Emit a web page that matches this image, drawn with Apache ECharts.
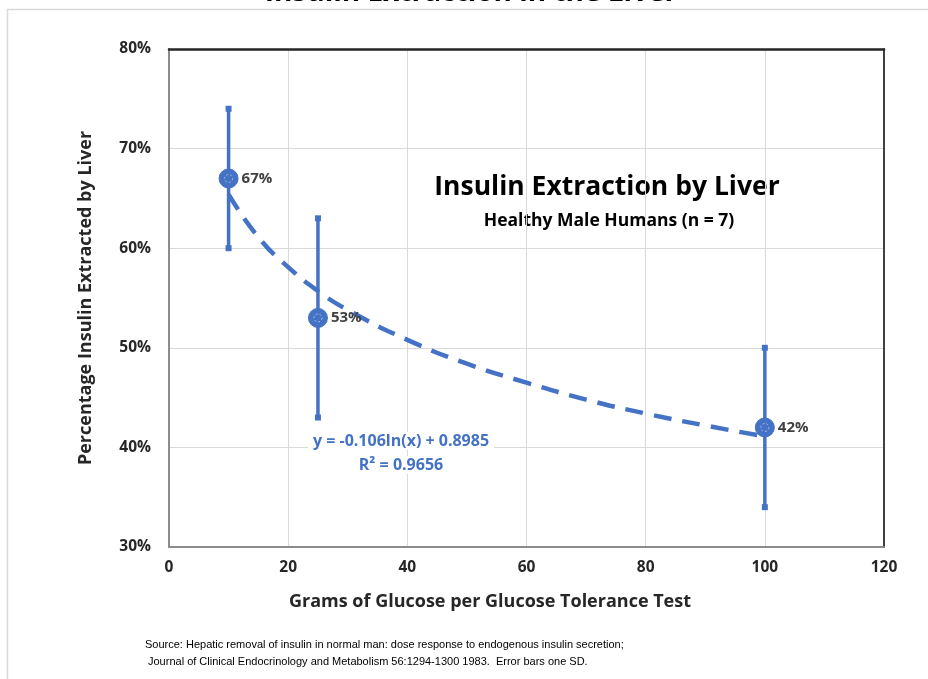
<!DOCTYPE html>
<html>
<head>
<meta charset="utf-8">
<script src="https://cdn.jsdelivr.net/npm/echarts@6/dist/echarts.min.js"></script>
<style>html,body{margin:0;padding:0;background:#fff;}#main{width:928px;height:679px;}</style>
</head>
<body>
<div id="main"></div>
<script>
// Data
var glucoseGrams = [10, 25, 100];
var extractionMean = [0.67, 0.53, 0.42];
var extractionLow = [0.60, 0.43, 0.34];
var extractionHigh = [0.74, 0.63, 0.50];
var pointLabels = ['67%', '53%', '42%'];
// Trend line
var trendX = [10, 15, 20, 25, 30, 40, 50, 60, 70, 80, 90, 100];
var trendY = [0.654, 0.611, 0.581, 0.557, 0.538, 0.508, 0.484, 0.465, 0.448, 0.434, 0.422, 0.411];
var xTicks = [0, 20, 40, 60, 80, 100, 120];
var yTicks = [0.3, 0.4, 0.5, 0.6, 0.7, 0.8];

var BLUE = '#4472C4';
var FONT = '"Open Sans", "Liberation Sans", sans-serif';

var chart = echarts.init(document.getElementById('main'), null, {renderer: 'canvas'});

var scatterData = glucoseGrams.map(function (x, i) { return [x, extractionMean[i], pointLabels[i]]; });
var errData = glucoseGrams.map(function (x, i) { return [x, extractionLow[i], extractionHigh[i]]; });
var trendData = trendX.map(function (x, i) { return [x, trendY[i]]; });

var option = {
  animation: false,
  backgroundColor: '#fff',
  grid: {left: 169, right: 44, top: 49, bottom: 132, containLabel: false},
  xAxis: [{
    type: 'value', min: xTicks[0], max: xTicks[xTicks.length - 1], interval: 20,
    axisLine: {lineStyle: {color: '#8c8c8c', width: 2}},
    axisTick: {show: false},
    axisLabel: {fontFamily: FONT, fontWeight: 'bold', fontSize: 15.5, color: '#262626', margin: 13},
    splitLine: {lineStyle: {color: '#d9d9d9', width: 1}}
  }, {
    type: 'value', min: 0, max: 120, position: 'top',
    axisLine: {show: true, onZero: false, lineStyle: {color: '#262626', width: 2.5}},
    axisTick: {show: false}, axisLabel: {show: false}, splitLine: {show: false}
  }],
  yAxis: [{
    type: 'value', min: yTicks[0], max: yTicks[yTicks.length - 1], interval: 0.1,
    axisLine: {show: true, lineStyle: {color: '#8c8c8c', width: 2}},
    axisTick: {show: false},
    axisLabel: {fontFamily: FONT, fontWeight: 'bold', fontSize: 15.5, color: '#262626', margin: 18,
      formatter: function (v) { return Math.round(v * 100) + '%'; }},
    splitLine: {lineStyle: {color: '#d9d9d9', width: 1}}
  }, {
    type: 'value', min: 0.3, max: 0.8, position: 'right',
    axisLine: {show: true, onZero: false, lineStyle: {color: '#404040', width: 2}},
    axisTick: {show: false}, axisLabel: {show: false}, splitLine: {show: false}
  }],
  series: [{
    type: 'line', data: trendData, smooth: true, showSymbol: false, symbol: 'none',
    lineStyle: {color: BLUE, width: 4.5, type: [18, 11]}, z: 2
  }, {
    type: 'custom', data: errData, z: 3,
    renderItem: function (params, api) {
      var x = api.value(0);
      var lo = api.coord([x, api.value(1)]);
      var hi = api.coord([x, api.value(2)]);
      var s = 3;
      return {
        type: 'group', children: [
          {type: 'line', shape: {x1: lo[0], y1: lo[1], x2: hi[0], y2: hi[1]}, style: {stroke: BLUE, lineWidth: 3.5}},
          {type: 'rect', shape: {x: lo[0] - s, y: lo[1] - s, width: 2 * s, height: 2 * s}, style: {fill: BLUE}},
          {type: 'rect', shape: {x: hi[0] - s, y: hi[1] - s, width: 2 * s, height: 2 * s}, style: {fill: BLUE}}
        ]
      };
    }
  }, {
    type: 'scatter', data: scatterData, symbol: 'circle', symbolSize: 19, z: 4,
    itemStyle: {color: BLUE, borderColor: BLUE, borderWidth: 1, opacity: 1},
    label: {show: true, position: 'right', distance: 3, formatter: function (p) { return p.data[2]; },
      fontFamily: FONT, fontWeight: 'bold', fontSize: 15, color: '#404040'}
  }, {
    type: 'scatter', data: scatterData, symbol: 'circle', symbolSize: 8, z: 5, silent: true,
    itemStyle: {color: 'transparent', borderColor: '#a9bde6', borderWidth: 1, borderType: [2, 2], opacity: 1}
  }],
  graphic: [
    {type: 'rect', left: 5, top: 7, shape: {width: 1000, height: 1000}, style: {fill: 'none', stroke: '#d9d9d9', lineWidth: 1.5}, z: -1},
    {type: 'text', x: 471, y: -21, z: 20, style: {text: 'Insulin Extraction in the Liver', font: 'bold 28px ' + FONT, fill: '#000', align: 'center', verticalAlign: 'top'}},
    {type: 'text', x: 607, y: 187, style: {text: 'Insulin Extraction by Liver', font: 'bold 26.5px ' + FONT, fill: '#000', align: 'center', verticalAlign: 'middle'}},
    {type: 'text', x: 609, y: 221, style: {text: 'Healthy Male Humans (n = 7)', font: 'bold 17.5px ' + FONT, fill: '#000', align: 'center', verticalAlign: 'middle'}},
    {type: 'text', x: 86, y: 298, rotation: Math.PI / 2, style: {text: 'Percentage Insulin Extracted by Liver', font: 'bold 18px ' + FONT, fill: '#262626', align: 'center', verticalAlign: 'middle'}},
    {type: 'text', x: 490, y: 602, style: {text: 'Grams of Glucose per Glucose Tolerance Test', font: 'bold 18px ' + FONT, fill: '#262626', align: 'center', verticalAlign: 'middle'}},
    {type: 'text', x: 401, y: 441, style: {text: 'y = -0.106ln(x) + 0.8985', font: 'bold 16px ' + FONT, fill: BLUE, align: 'center', verticalAlign: 'middle', backgroundColor: '#fff', padding: [1, 5]}, z: 10},
    {type: 'text', x: 401, y: 465, style: {text: 'R² = 0.9656', font: 'bold 16px ' + FONT, fill: BLUE, align: 'center', verticalAlign: 'middle', backgroundColor: '#fff', padding: [1, 4]}, z: 10},
    {type: 'text', x: 145, y: 645, style: {text: 'Source: Hepatic removal of insulin in normal man: dose response to endogenous insulin secretion;', font: '11px "Liberation Sans", sans-serif', fill: '#000', verticalAlign: 'middle'}},
    {type: 'text', x: 148, y: 662, style: {text: 'Journal of Clinical Endocrinology and Metabolism 56:1294-1300 1983.  Error bars one SD.', font: '11px "Liberation Sans", sans-serif', fill: '#000', verticalAlign: 'middle'}}
  ]
};
chart.setOption(option);
</script>
</body>
</html>
